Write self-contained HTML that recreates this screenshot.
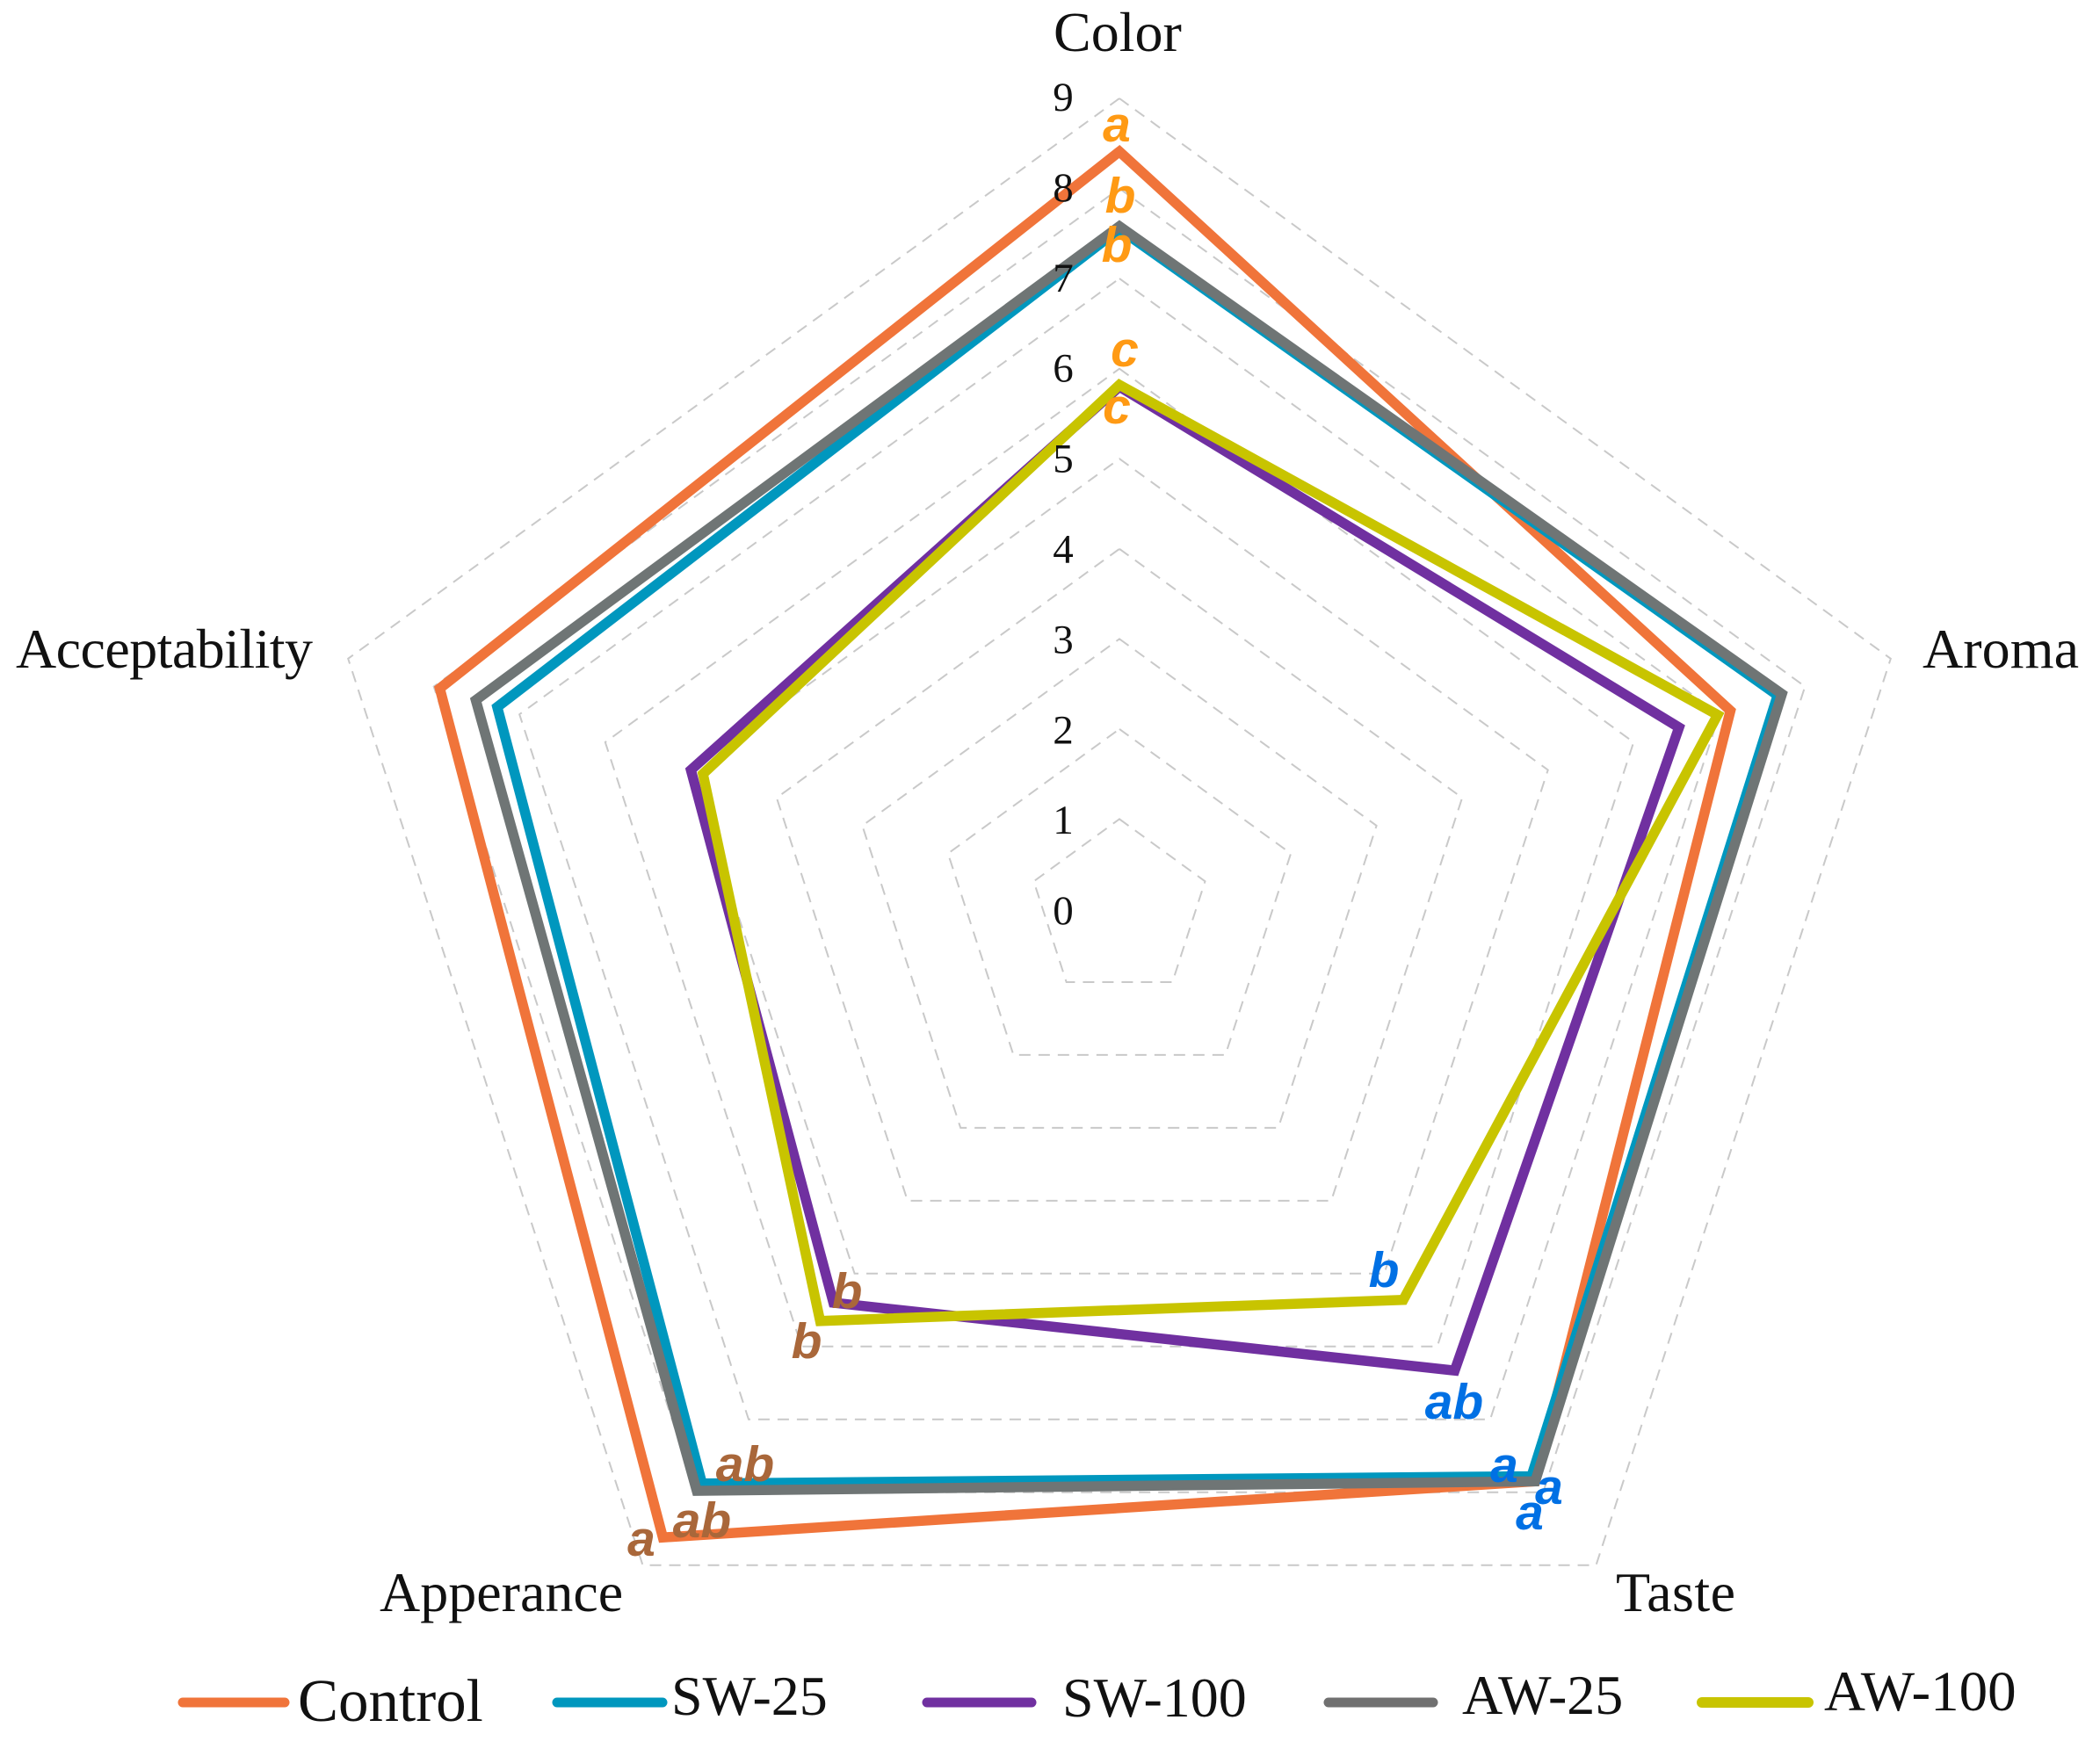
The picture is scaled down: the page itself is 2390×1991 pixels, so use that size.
<!DOCTYPE html>
<html lang="en">
<head>
<meta charset="utf-8">
<title>Sensory radar chart</title>
<style>
html,body{margin:0;padding:0;background:#fff;width:2390px;height:1991px;overflow:hidden}
svg{display:block}
.cat{font-family:"Liberation Serif",serif;font-size:64px;fill:#111}
.leg{font-family:"Liberation Serif",serif;fill:#111}
.tick{font-family:"Liberation Serif",serif;font-size:47px;fill:#111;text-anchor:middle}
.sig{font-family:"Liberation Sans",sans-serif;font-weight:bold;font-style:italic;font-size:57px;text-anchor:middle}
.o{fill:#FF9A14}.b{fill:#0070E4}.r{fill:#A9673A}
</style>
</head>
<body>
<svg id="chart" xmlns="http://www.w3.org/2000/svg" width="2390" height="1991" viewBox="0 0 2390 1991">
  <rect width="2390" height="1991" fill="#fff"/>
  <g id="grid"></g>
  <g id="series"></g>
  <g id="ticks"></g>

  <text class="cat" x="1199" y="58">Color</text>
  <text class="cat" x="2188" y="760" textLength="178">Aroma</text>
  <text class="cat" x="1839" y="1834" textLength="136">Taste</text>
  <text class="cat" x="432" y="1834">Apperance</text>
  <text class="cat" x="18" y="760" textLength="338">Acceptability</text>

  <g>
    <text class="sig o" x="1271" y="161">a</text>
    <text class="sig o" x="1275" y="242">b</text>
    <text class="sig o" x="1271" y="298">b</text>
    <text class="sig o" x="1280" y="417">c</text>
    <text class="sig o" x="1271" y="482">c</text>
  </g>
  <g>
    <text class="sig b" x="1575" y="1465">b</text>
    <text class="sig b" x="1655" y="1615">ab</text>
    <text class="sig b" x="1712" y="1687">a</text>
    <text class="sig b" x="1763" y="1712">a</text>
    <text class="sig b" x="1741" y="1741">a</text>
  </g>
  <g>
    <text class="sig r" x="964" y="1489">b</text>
    <text class="sig r" x="918" y="1546">b</text>
    <text class="sig r" x="848" y="1686">ab</text>
    <text class="sig r" x="799" y="1750">ab</text>
    <text class="sig r" x="730" y="1771">a</text>
  </g>

  <g>
    <g>
      <line x1="208" y1="1938" x2="324" y2="1938" stroke="#F0743A" stroke-width="11" stroke-linecap="round"/>
      <text class="leg" x="339" y="1959" font-size="69">Control</text>
    </g>
    <g>
      <line x1="634" y1="1938" x2="754" y2="1938" stroke="#0097BE" stroke-width="11" stroke-linecap="round"/>
      <text class="leg" x="764" y="1952" font-size="64">SW-25</text>
    </g>
    <g>
      <line x1="1055" y1="1938" x2="1174" y2="1938" stroke="#7030A0" stroke-width="11" stroke-linecap="round"/>
      <text class="leg" x="1209" y="1954" font-size="64">SW-100</text>
    </g>
    <g>
      <line x1="1512" y1="1938" x2="1631" y2="1938" stroke="#707070" stroke-width="11" stroke-linecap="round"/>
      <text class="leg" x="1664" y="1951" font-size="64">AW-25</text>
    </g>
    <g>
      <line x1="1937" y1="1938" x2="2058" y2="1938" stroke="#C8C400" stroke-width="12" stroke-linecap="round"/>
      <text class="leg" x="2076" y="1947" font-size="65">AW-100</text>
    </g>
  </g>
</svg>
<script>
// Order of axes: Color, Aroma, Taste, Apperance, Acceptability
const categories = ["Color", "Aroma", "Taste", "Apperance", "Acceptability"];
const tickLabels = ["0", "1", "2", "3", "4", "5", "6", "7", "8", "9"];
const control = [8.41, 7.13, 7.85, 8.62, 7.93];
const sw25 = [7.55, 7.68, 7.78, 7.88, 7.26];
const sw100 = [5.80, 6.53, 6.33, 5.40, 5.00];
const aw25 = [7.58, 7.73, 7.85, 7.98, 7.51];
const aw100 = [5.82, 6.98, 5.36, 5.65, 4.86];
const seriesNames = ["control", "sw-25", "sw-100", "aw-25", "aw-100"];
const seriesColors = ["#F0743A", "#0097BE", "#7030A0", "#6F7575", "#C8C400"];

const NS = "http://www.w3.org/2000/svg";
const CX = 1274, CY = 1035, RMAX = 923, VMAX = 9;

function radius(v) { return v / VMAX * RMAX; }
function angle(i) { return -Math.PI / 2 + i * 2 * Math.PI / categories.length; }
function px(i, v) { return CX + radius(v) * Math.cos(angle(i)); }
function py(i, v) { return CY + radius(v) * Math.sin(angle(i)); }
function tickY(v) { return 126 + (VMAX - v) * 102.9; }
function ringPoints(values) {
  return values.map(function (v, i) { return px(i, v).toFixed(1) + "," + py(i, v).toFixed(1); }).join(" ");
}

const gridG = document.getElementById("grid");
tickLabels.forEach(function (t) {
  const v = Number(t);
  if (v === 0) return;
  const ring = document.createElementNS(NS, "polygon");
  
  
  ring.setAttribute("points", ringPoints(categories.map(function () { return v; })));
  ring.setAttribute("fill", "none");
  ring.setAttribute("stroke", "#c9c9c9");
  ring.setAttribute("stroke-width", "2");
  ring.setAttribute("stroke-dasharray", "13 9");
  gridG.appendChild(ring);
});

const seriesG = document.getElementById("series");
[control, sw25, sw100, aw25, aw100].forEach(function (values, s) {
  const line = document.createElementNS(NS, "polygon");
  
  
  line.setAttribute("points", ringPoints(values));
  line.setAttribute("fill", "none");
  line.setAttribute("stroke", seriesColors[s]);
  line.setAttribute("stroke-width", "11.5");
  line.setAttribute("stroke-linejoin", "miter");
  seriesG.appendChild(line);
});

const ticksG = document.getElementById("ticks");
tickLabels.forEach(function (t) {
  const label = document.createElementNS(NS, "text");
  
  
  label.setAttribute("class", "tick");
  label.setAttribute("x", "1210");
  label.setAttribute("y", tickY(Number(t)).toFixed(1));
  label.textContent = t;
  ticksG.appendChild(label);
});
</script>
</body>
</html>
